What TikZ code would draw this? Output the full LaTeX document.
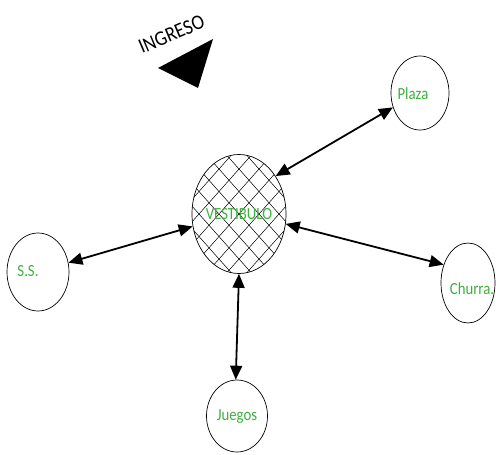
\documentclass[tikz,border=0pt]{standalone}
\usepackage{fontspec}
\setmainfont{Carlito}
\usetikzlibrary{arrows.meta,shapes.geometric}
\definecolor{lbl}{RGB}{62,175,62}
\begin{document}
\begin{tikzpicture}[x=1pt,y=-1pt,
  place/.style={draw=black,line width=0.7pt,ellipse,inner sep=0pt},
  lab/.style={text=lbl,inner sep=0pt,xscale=0.87,font=\fontsize{17}{17}\selectfont},
  link/.style={line width=1.8pt,{Triangle[length=14pt,width=12pt]}-{Triangle[length=14pt,width=12pt]}}]
\useasboundingbox (0,0) rectangle (496,455);
% hatch of vestibulo
\begin{scope}
  \clip (239,214) ellipse [x radius=47, y radius=59.5];
  \foreach \i in {-10,...,10}{
    \draw[line width=0.5pt] (239+\i*20-80,214-90) -- ++(160,180);
    \draw[line width=0.5pt] (239+\i*20+80,214-90) -- ++(-160,180);
  }
\end{scope}
\node[place,minimum width=94,minimum height=119] (v) at (239,214) {};
\node[place,minimum width=58,minimum height=74] (p) at (420,93) {};
\node[place,minimum width=62,minimum height=78] (s) at (38,272) {};
\node[place,minimum width=54,minimum height=80] (c) at (468,283) {};
\node[place,minimum width=61,minimum height=72] (j) at (237,416) {};
\node[lab] (tv) at (239,214) {VESTIBULO};
\node[lab] (tp) at (413,94) {Plaza};
\node[lab] (ts) at (28,271) {S.S.};
\node[lab] (tc) at (472,289) {Churra.};
\node[lab] (tj) at (237,417) {Juegos};
% entrance
\node[rotate=23,anchor=base west,inner sep=0pt,xscale=0.9,font=\fontsize{21}{21}\selectfont] (ing) at (142,54) {INGRESO};
\fill (158,68) -- (213,39) -- (198,88) -- cycle;
% connectors
\draw[link] (v.46) -- (p.208);
\draw[link] (v.195) -- (s.17);
\draw[link] (v.-12) -- (c.143);
\draw[link] (v.270) -- (j.92);
\end{tikzpicture}
\end{document}
